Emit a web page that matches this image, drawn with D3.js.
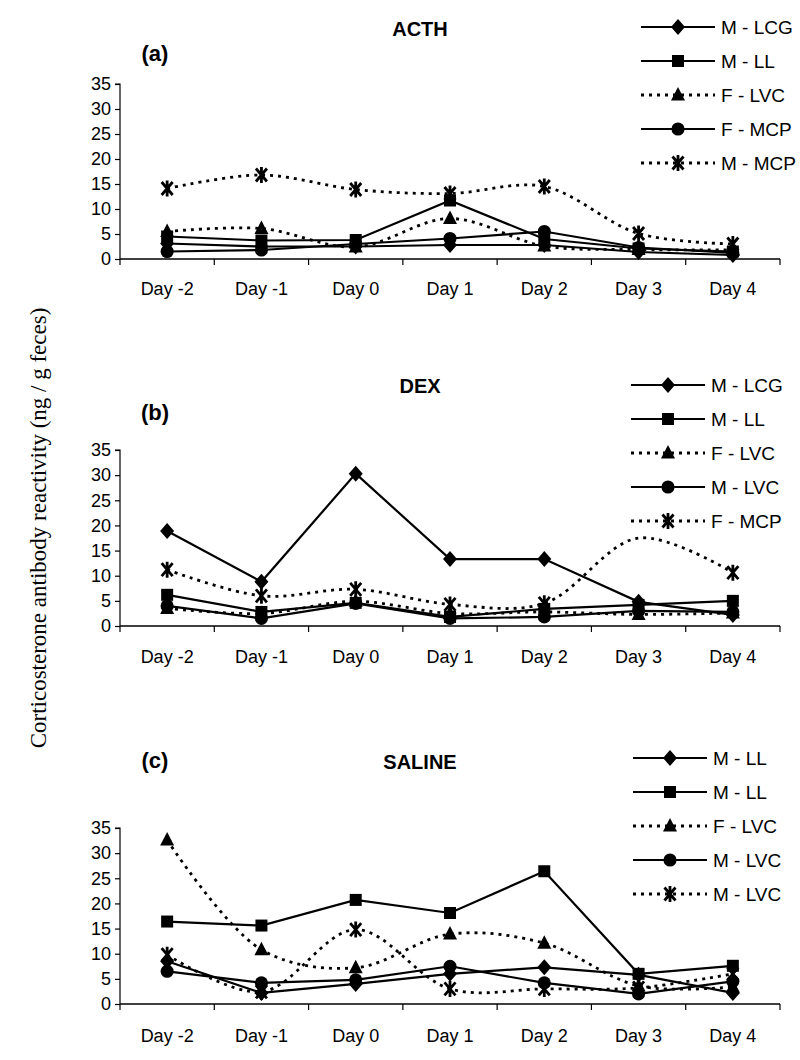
<!DOCTYPE html>
<html>
<head>
<meta charset="utf-8">
<script src="https://cdn.jsdelivr.net/npm/d3@7"></script>
<style>
  html, body { margin: 0; padding: 0; background: #fff; }
  svg { display: block; }
</style>
</head>
<body>
<svg id="chart" width="800" height="1060"></svg>
<script>
// ---------- data ----------
const days = ["Day -2", "Day -1", "Day 0", "Day 1", "Day 2", "Day 3", "Day 4"];
const yTicks = [0, 5, 10, 15, 20, 25, 30, 35];

// (a) ACTH
const acthNames = ["M - LCG", "M - LL", "F - LVC", "F - MCP", "M - MCP"];
const acthMLCG = [3.1, 2.5, 2.5, 2.8, 2.8, 1.4, 0.8];
const acthMLL  = [4.5, 3.7, 3.8, 11.7, 4.0, 2.1, 1.5];
const acthFLVC = [5.5, 6.1, 2.4, 8.1, 2.6, 1.9, 1.8];
const acthFMCP = [1.5, 1.8, 3.0, 4.1, 5.5, 2.3, 1.2];
const acthMMCP = [14.1, 16.8, 13.9, 13.1, 14.5, 5.1, 3.0];

// (b) DEX
const dexNames = ["M - LCG", "M - LL", "F - LVC", "M - LVC", "F - MCP"];
const dexMLCG = [18.9, 8.8, 30.3, 13.3, 13.3, 4.8, 2.2];
const dexMLL  = [6.2, 2.8, 4.6, 1.8, 3.4, 4.2, 5.0];
const dexFLVC = [3.5, 2.5, 4.9, 2.5, 2.8, 2.3, 2.6];
const dexMLVC = [4.0, 1.5, 4.5, 1.5, 1.8, 3.0, 2.8];
const dexFMCP = [11.2, 6.0, 7.3, 4.3, 4.5, 17.5, 10.6];

// (c) SALINE
const salNames = ["M - LL", "M - LL", "F - LVC", "M - LVC", "M - LVC"];
const salMLLa = [8.5, 2.2, 4.0, 6.0, 7.3, 5.8, 2.2];
const salMLLb = [16.4, 15.6, 20.7, 18.1, 26.4, 6.0, 7.6];
const salFLVC = [32.6, 10.8, 7.2, 13.9, 12.1, 3.6, 3.4];
const salMLVCa = [6.5, 4.2, 4.8, 7.5, 4.2, 2.0, 4.5];
const salMLVCb = [9.8, 2.4, 14.8, 3.0, 3.0, 3.2, 6.0];

// marker type / line style per series slot (same for every panel)
const markerTypes = ["diamond", "square", "triangle", "circle", "asterisk"];
const dottedFlags = [false, false, true, false, true];

// ---------- layout ----------
const panels = [
  { title: "ACTH", tag: "(a)", titleY: 29, tagY: 53, top: 84, bottom: 259, labelY: 289,
    legendY0: 27, lx0: 641, lx1: 715, tx: 721,
    names: acthNames, values: [acthMLCG, acthMLL, acthFLVC, acthFMCP, acthMMCP], hidden: {} },
  { title: "DEX", tag: "(b)", titleY: 386, tagY: 412, top: 450, bottom: 626, labelY: 657,
    legendY0: 385, lx0: 631, lx1: 705, tx: 711,
    names: dexNames, values: [dexMLCG, dexMLL, dexFLVC, dexMLVC, dexFMCP], hidden: { 4: [5] } },
  { title: "SALINE", tag: "(c)", titleY: 762, tagY: 760, top: 828, bottom: 1004, labelY: 1036,
    legendY0: 758, lx0: 633, lx1: 707, tx: 713,
    names: salNames, values: [salMLLa, salMLLb, salFLVC, salMLVCa, salMLVCb], hidden: {} }
];

const svg = d3.select("#chart");
const sans = "'Liberation Sans', Arial, Helvetica, sans-serif";

function markerPath(type) {
  switch (type) {
    case "diamond": return "M0,-8L7,0L0,8L-7,0Z";
    case "square": return "M-6,-6L6,-6L6,6L-6,6Z";
    case "triangle": return "M0,-8L7,5.5L-7,5.5Z";
    case "circle": return d3.symbol(d3.symbolCircle, 135)();
    case "asterisk": return "M-5.5,-6.5L5.5,6.5M5.5,-6.5L-5.5,6.5M0,-8L0,8";
  }
}

function drawMarker(g, type, x, y) {
  const p = g.append("path").attr("d", markerPath(type))
    .attr("transform", `translate(${x},${y})`);
  if (type === "asterisk") p.attr("fill", "none").attr("stroke", "#000").attr("stroke-width", 2.8);
  else p.attr("fill", "#000").attr("stroke", "none");
}

const x = d3.scaleBand().domain(days).range([120, 780]);

panels.forEach(P => {
  const g = svg.append("g");
  const y = d3.scaleLinear().domain([0, 35]).range([P.bottom, P.top]);

  // title and tag
  g.append("text").attr("x", 420).attr("y", P.titleY).attr("dy", "0.35em")
    .attr("text-anchor", "middle").attr("font-family", sans).attr("font-weight", "bold")
    .attr("font-size", 20).text(P.title);
  g.append("text").attr("x", 155).attr("y", P.tagY).attr("dy", "0.35em")
    .attr("text-anchor", "middle").attr("font-family", sans).attr("font-weight", "bold")
    .attr("font-size", 22).text(P.tag);

  // y axis
  const yAxis = d3.axisLeft(y).tickValues(yTicks).tickSize(5).tickPadding(4);
  const ya = g.append("g").attr("transform", "translate(120,0)").call(yAxis);
  ya.select(".domain").attr("stroke", "#000").attr("stroke-width", 1.2).attr("d", `M-5,${P.top}H0V${P.bottom}`);
  ya.selectAll(".tick line").attr("stroke", "#000").attr("stroke-width", 1.2);
  ya.selectAll(".tick text").attr("font-family", sans).attr("font-size", 18).attr("fill", "#000");

  // x axis with ticks on band boundaries
  const xa = g.append("g").attr("transform", `translate(0,${P.bottom})`);
  xa.append("path").attr("d", `M120,0H780`).attr("stroke", "#000").attr("stroke-width", 1.4);
  const bounds = days.map(d => x(d)).concat([x.range()[1]]);
  xa.selectAll("line.tk").data(bounds).join("line").attr("class", "tk")
    .attr("x1", d => d).attr("x2", d => d).attr("y1", 0).attr("y2", 6)
    .attr("stroke", "#000").attr("stroke-width", 1.2);
  g.selectAll("text.xl").data(days).join("text").attr("class", "xl")
    .attr("x", d => x(d) + x.bandwidth() / 2).attr("y", P.labelY).attr("dy", "0.35em")
    .attr("text-anchor", "middle").attr("font-family", sans).attr("font-size", 18)
    .text(d => d);

  // series
  P.values.forEach((vals, i) => {
    const dotted = dottedFlags[i];
    const line = d3.line()
      .x((d, j) => x(days[j]) + x.bandwidth() / 2)
      .y(d => y(d))
      .curve(dotted ? d3.curveCatmullRom.alpha(0.5) : d3.curveLinear);
    g.append("path").datum(vals).attr("d", line)
      .attr("fill", "none").attr("stroke", "#000")
      .attr("stroke-width", dotted ? 2.8 : 2.2)
      .attr("stroke-dasharray", dotted ? "3,5" : null);
    const hid = P.hidden[i] || [];
    vals.forEach((v, j) => {
      if (hid.includes(j)) return;
      drawMarker(g, markerTypes[i], x(days[j]) + x.bandwidth() / 2, y(v));
    });
  });

  // legend
  P.names.forEach((name, i) => {
    const ly = P.legendY0 + i * 34;
    const dotted = dottedFlags[i];
    g.append("line").attr("x1", P.lx0).attr("x2", P.lx1).attr("y1", ly).attr("y2", ly)
      .attr("stroke", "#000").attr("stroke-width", dotted ? 2.8 : 2.2)
      .attr("stroke-dasharray", dotted ? "3,5" : null);
    drawMarker(g, markerTypes[i], (P.lx0 + P.lx1) / 2, ly);
    g.append("text").attr("x", P.tx).attr("y", ly).attr("dy", "0.35em")
      .attr("font-family", sans).attr("font-size", 19).text(name);
  });
});

// shared y-axis label
svg.append("text")
  .attr("transform", "translate(38,528) rotate(-90)")
  .attr("text-anchor", "middle").attr("dy", "0.35em")
  .attr("font-family", "'Liberation Serif', 'Times New Roman', serif")
  .attr("font-size", 23)
  .text("Corticosterone antibody reactivity (ng / g feces)");
</script>
</body>
</html>
